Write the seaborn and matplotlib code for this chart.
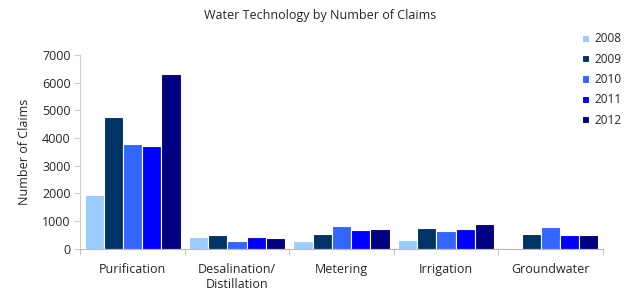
import numpy as np
import pandas as pd
import matplotlib
matplotlib.use("Agg")
import matplotlib.pyplot as plt
import seaborn as sns

# --- data ---
categories = ["Purification", "Desalination/\nDistillation", "Metering", "Irrigation", "Groundwater"]
years = ["2008", "2009", "2010", "2011", "2012"]
claims_2008 = [1950, 440, 275, 335, np.nan]
claims_2009 = [4760, 490, 520, 735, 550]
claims_2010 = [3780, 265, 840, 650, 785]
claims_2011 = [3730, 420, 675, 700, 515]
claims_2012 = [6300, 395, 720, 890, 505]
year_colors = ["#99CCFF", "#003366", "#3366FF", "#0000FF", "#000080"]

rows = []
for yr, vals in zip(years, [claims_2008, claims_2009, claims_2010, claims_2011, claims_2012]):
    for cat, v in zip(categories, vals):
        rows.append({"Technology": cat, "Year": yr, "Claims": v})
df = pd.DataFrame(rows)

# --- plot ---
sns.set_style("white")
plt.rcParams["font.family"] = ["Open Sans", "DejaVu Sans"]

fig, ax = plt.subplots(figsize=(6.33, 2.9), dpi=100)
fig.subplots_adjust(left=0.127, right=0.952, top=0.81, bottom=0.142)

sns.barplot(data=df, x="Technology", y="Claims", hue="Year", order=categories,
            hue_order=years, palette=year_colors, width=0.92, ax=ax,
            edgecolor="white", linewidth=0.8, errorbar=None, saturation=1)

ax.set_ylim(0, 7000)
ax.set_xlim(-0.5, 4.5)
ax.set_yticks(range(0, 7001, 1000))
ax.set_xlabel("")
ax.set_ylabel("Number of Claims", fontsize=9, labelpad=8)
fig.text(0.505, 0.948, "Water Technology by Number of Claims", fontsize=9,
         ha="center", va="center")

for s in ["top", "right"]:
    ax.spines[s].set_visible(False)
ax.spines["left"].set_color("#d0d0d0")
ax.spines["bottom"].set_color("#b8b8b8")
ax.tick_params(axis="y", labelsize=9, length=4, color="#d0d0d0", left=True, pad=3)
ax.tick_params(axis="x", which="major", labelsize=9, length=0, pad=10)
ax.set_xticks(np.arange(-0.5, 5, 1), minor=True)
ax.tick_params(axis="x", which="minor", length=4, color="#b8b8b8", bottom=True)

ax.legend(loc="upper left", bbox_to_anchor=(0.92, 0.888), bbox_transform=fig.transFigure,
          frameon=False, fontsize=8.5, borderaxespad=0, borderpad=0,
          handlelength=0.6, handleheight=0.6, handletextpad=0.4, labelspacing=0.62)

fig.savefig("out.png", dpi=100)
